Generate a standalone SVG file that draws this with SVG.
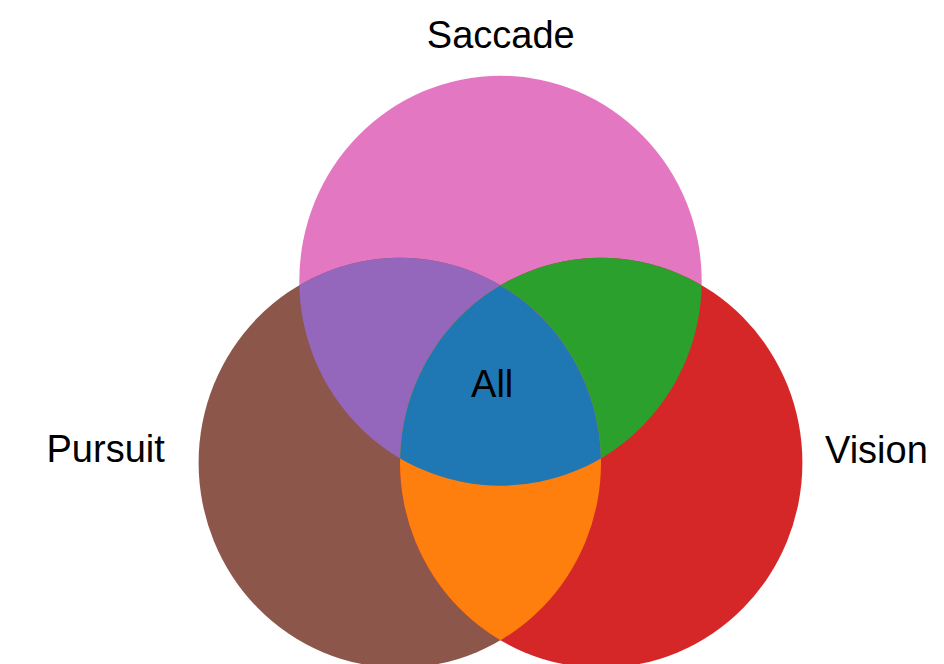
<svg xmlns="http://www.w3.org/2000/svg" width="944" height="664" viewBox="0 0 944 664">
  <style>
    .lbl { font-family: "Liberation Sans", Arial, sans-serif; font-size: 38px; fill: #000; }
  </style>
  <defs>
    <clipPath id="clipS"><ellipse cx="500.5" cy="280.7" rx="201.2" ry="205"/></clipPath>
    <clipPath id="clipP"><ellipse cx="399.8" cy="462.8" rx="201.2" ry="205"/></clipPath>
    <clipPath id="clipV"><ellipse cx="601.2" cy="462.8" rx="201.2" ry="205"/></clipPath>
  </defs>
  <rect width="944" height="664" fill="#ffffff"/>
  <g id="saccade">
    <ellipse cx="500.5" cy="280.7" rx="201.2" ry="205" fill="#e377c2"/>
    <text class="lbl" x="500.8" y="48" text-anchor="middle">Saccade</text>
  </g>
  <g id="pursuit">
    <ellipse cx="399.8" cy="462.8" rx="201.2" ry="205" fill="#8c564b"/>
    <text class="lbl" x="46.5" y="462">Pursuit</text>
  </g>
  <g id="vision">
    <ellipse cx="601.2" cy="462.8" rx="201.2" ry="205" fill="#d62728"/>
    <text class="lbl" x="825" y="463.3">Vision</text>
  </g>
  <g id="saccade_pursuit" clip-path="url(#clipS)">
    <ellipse cx="399.8" cy="462.8" rx="201.2" ry="205" fill="#9467bd"/>
  </g>
  <g id="saccade_vision" clip-path="url(#clipS)">
    <ellipse cx="601.2" cy="462.8" rx="201.2" ry="205" fill="#2ca02c"/>
  </g>
  <g id="pursuit_vision" clip-path="url(#clipP)">
    <ellipse cx="601.2" cy="462.8" rx="201.2" ry="205" fill="#ff7f0e"/>
  </g>
  <g id="all">
    <g clip-path="url(#clipS)">
      <g clip-path="url(#clipP)">
        <ellipse cx="601.2" cy="462.8" rx="201.2" ry="205" fill="#1f77b4"/>
      </g>
    </g>
    <text class="lbl" x="492.2" y="397.3" text-anchor="middle">All</text>
  </g>
  <g id="connectors"/>
</svg>
